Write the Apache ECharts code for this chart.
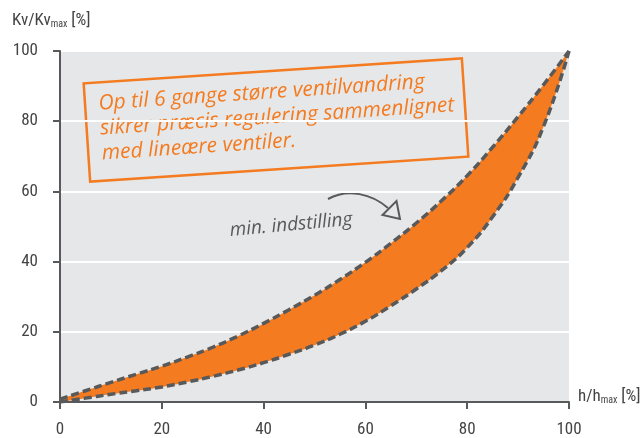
<!DOCTYPE html>
<html>
<head>
<meta charset="utf-8">
<script src="https://cdn.jsdelivr.net/npm/echarts@6/dist/echarts.min.js"></script>
<style>html,body{margin:0;padding:0;background:#fff}#c{width:644px;height:438px}</style>
</head>
<body>
<div id="c"></div>
<script>
// h/hmax [%]
const hValues = [0,5,10,15,20,25,30,35,40,45,50,55,60,65,70,75,80,85,90,95,100];
// Kv/Kvmax [%] upper boundary (min. indstilling)
const upperValues = [0.8,3.2,5.6,7.9,10.2,12.8,15.6,18.8,22.4,26.3,30.4,34.9,39.8,45.2,51.0,57.4,64.5,72.6,81.3,90.4,100];
// Kv/Kvmax [%] lower boundary
const lowerValues = [0,1.1,2.2,3.2,4.3,5.7,7.3,9.1,11.2,13.6,16.2,19.3,23,27.4,32.2,37.5,44,52.8,64,78.5,100];
const xTicks = [0,20,40,60,80,100];
const yTicks = [0,20,40,60,80,100];
const noteLines = ['Op til 6 gange større ventilvandring','sikrer præcis regulering sammenlignet','med lineære ventiler.'];
const minLabel = 'min. indstilling';

const ORANGE = '#f47b20';
const GRAY = '#58595b';
const FONT = "'Liberation Sans Narrow','Roboto Condensed','Liberation Sans',Arial,sans-serif";
const HAND = "'Open Sans',sans-serif";

const bandValues = hValues.map((h,i)=>upperValues[i]-lowerValues[i]);
const showTick = (idx)=>xTicks.includes(hValues[idx]);

const noteText = noteLines.map((t,i)=>({type:'text',x:-176,y:-28+25*i,style:{text:t,fill:ORANGE,fontSize:21,
  fontStyle:'italic',fontFamily:HAND,verticalAlign:'middle',align:'left'}}));

const chart = echarts.init(document.getElementById('c'));
chart.setOption({
  animation:false,
  grid:{left:60,right:75,top:51,bottom:33,show:true,backgroundColor:'#e6e7e8',borderWidth:0},
  xAxis:{type:'category',data:hValues.map(String),boundaryGap:false,
    axisLine:{show:true,lineStyle:{color:GRAY,width:2}},
    axisTick:{show:true,length:7,interval:(i)=>showTick(i),lineStyle:{color:GRAY,width:2}},
    axisLabel:{color:'#444',fontSize:17,fontFamily:FONT,margin:19,interval:(i)=>showTick(i)},
    splitLine:{show:false}},
  yAxis:{type:'value',min:0,max:100,interval:20,
    axisLine:{show:true,lineStyle:{color:GRAY,width:2}},
    axisTick:{show:true,length:7,lineStyle:{color:GRAY,width:2}},
    axisLabel:{color:'#444',fontSize:17,fontFamily:FONT,margin:22,
      formatter:v=>yTicks.includes(v)?String(v):''},
    splitLine:{show:true,lineStyle:{color:'#ffffff',width:2}}},
  series:[
    {type:'line',data:lowerValues,stack:'band',smooth:true,symbol:'none',lineStyle:{opacity:0},areaStyle:{opacity:0},z:2},
    {type:'line',data:bandValues,stack:'band',smooth:true,symbol:'none',lineStyle:{opacity:0},areaStyle:{color:ORANGE,opacity:1},z:2},
    {type:'line',data:upperValues,smooth:true,symbol:'none',lineStyle:{color:GRAY,width:3.5,type:[8,4]},z:3},
    {type:'line',data:lowerValues,smooth:true,symbol:'none',lineStyle:{color:GRAY,width:3.5,type:[8,4]},z:3}
  ],
  graphic:[
    {type:'text',left:12,top:12,style:{
      text:'{a|Kv/Kv}{b|max}{a| [%]}',
      rich:{a:{fontSize:17,fontFamily:FONT,fill:'#444',lineHeight:20,verticalAlign:'bottom'},
            b:{fontSize:10,fontFamily:FONT,fill:'#444',lineHeight:14,verticalAlign:'bottom'}}}},
    {type:'text',left:578,top:388,style:{
      text:'{a|h/h}{b|max}{a| [%]}',
      rich:{a:{fontSize:17,fontFamily:FONT,fill:'#444',lineHeight:20,verticalAlign:'bottom'},
            b:{fontSize:10,fontFamily:FONT,fill:'#444',lineHeight:14,verticalAlign:'bottom'}}}},
    {type:'group',x:276,y:120,rotation:0.066,children:[
      {type:'rect',shape:{x:-189.5,y:-49.3,width:379,height:98.6},style:{fill:'none',stroke:ORANGE,lineWidth:2.5}}
    ].concat(noteText)},
    {type:'text',x:291,y:225,rotation:0.09,style:{text:minLabel,fill:GRAY,fontSize:19,fontStyle:'italic',
      fontFamily:HAND,align:'center',verticalAlign:'middle'}},
    {type:'bezierCurve',shape:{x1:328,y1:199,x2:388,y2:208,cpx1:348,cpy1:188,cpx2:372,cpy2:194},
      style:{stroke:GRAY,lineWidth:2,fill:'none'}},
    {type:'polygon',shape:{points:[[382.5,215],[396.5,201],[400,219]]},style:{stroke:GRAY,lineWidth:2,fill:'none'}}
  ]
});
</script>
</body>
</html>
